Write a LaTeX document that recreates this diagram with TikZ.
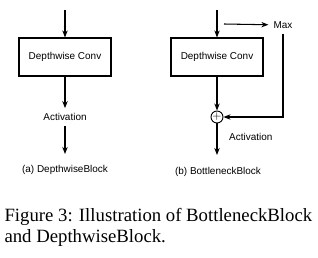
\documentclass[tikz,border=0pt]{standalone}
\usepackage{fontspec}
\setmainfont{Liberation Serif}
\setsansfont{Liberation Sans}
\usetikzlibrary{arrows.meta,positioning,calc}

\tikzset{
  blockbox/.style={draw, line width=0.9pt, minimum width=27.6mm, minimum height=11.4mm,
    font=\sffamily\fontsize{8.5}{10}\selectfont},
  lbl/.style={inner sep=4pt, font=\sffamily\fontsize{8.5}{10}\selectfont},
  sumnode/.style={draw, circle, line width=0.8pt, inner sep=0pt, minimum size=3.6mm,
    font=\fontsize{10}{10}\selectfont}
}

\begin{document}
\begin{tikzpicture}[x=0.3mm,y=-0.3mm,>={Stealth[length=6pt,width=4.6pt]},line width=0.9pt]
    \useasboundingbox (0,0) rectangle (318,257);
    % (a) depthwise block
    \coordinate (lin) at (65,10);
    \node[blockbox] (lconv) at (65,57) {Depthwise Conv};
    \node[lbl] (lact) at (65,117) {Activation};
    \coordinate (lout) at (65,154);
    \node[lbl] (lcap) at (65,170) {(a) DepthwiseBlock};
    \draw[->] (lin) -- (lconv);
    \draw[->] (lconv) -- (lact);
    \draw[->] (lact) -- (lout);
    % (b) bottleneck block
    \coordinate (rin) at (217,10);
    \node[blockbox] (rconv) at (217,57) {Depthwise Conv};
    \coordinate (rsplit) at (224,24);
    \node[lbl] (rmax) at (283,25) {Max};
    \node[sumnode] (rsum) at (217,117) {$+$};
    \coordinate (rout) at (217,155);
    \node[lbl, anchor=west] (ract) at (224,137) {Activation};
    \node[lbl] (rcap) at (218,172) {(b) BottleneckBlock};
    \draw[->] (rin) -- (rconv);
    \draw[->] (rsplit) -- (rmax);
    \draw[->] (rconv) -- (rsum);
    \draw[->] (rmax) |- (rsum);
    \draw[->] (rsum) -- (rout);
    % caption
    \node[anchor=north west, align=left, inner sep=0pt, font=\fontsize{16}{18}\selectfont] (caption) at (4,208)
      {Figure 3: Illustration of BottleneckBlock\\and DepthwiseBlock.};
\end{tikzpicture}
\end{document}
